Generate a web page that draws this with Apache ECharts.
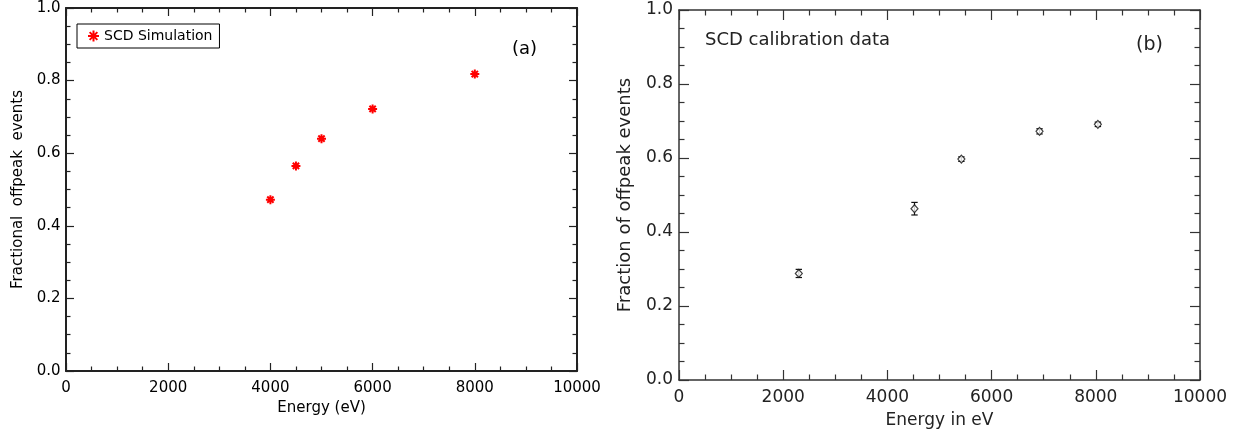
<!DOCTYPE html>
<html>
<head>
<meta charset="utf-8">
<script src="https://cdn.jsdelivr.net/npm/echarts@6/dist/echarts.min.js"></script>
<style>
html,body{margin:0;padding:0;background:#fff;}
#chart{width:1242px;height:430px;}
</style>
</head>
<body>
<div id="chart"></div>
<script>
// ---- data ----
const aEnergy   = [4000, 4500, 5000, 6000, 8000];
const aFraction = [0.472, 0.565, 0.640, 0.722, 0.818];
const bEnergy   = [2300, 4520, 5420, 6920, 8040];
const bFraction = [0.288, 0.463, 0.597, 0.672, 0.691];
const bError    = [0.011, 0.017, 0.006, 0.007, 0.006];
const xRange = [0, 10000];
const yRange = [0, 1];
const xStep = 2000;
const yStep = 0.2;

const STAR = 'path://M5 0L5 10M0 5L10 5M1.5 1.5L8.5 8.5M8.5 1.5L1.5 8.5';

const chart = echarts.init(document.getElementById('chart'), null, {renderer: 'canvas'});

function xAx(grid, pos, cfg) {
  const c = cfg;
  return {
    gridIndex: grid, type: 'value', position: pos,
    min: xRange[0], max: xRange[1], interval: xStep,
    splitLine: {show: false},
    axisLine: {show: true, onZero: false, lineStyle: {color: c.line, width: c.lw}},
    axisTick: {show: true, inside: true, length: c.major, lineStyle: {color: c.line, width: c.tw}},
    minorTick: {show: true, splitNumber: 4, length: c.minor, lineStyle: {color: c.line, width: c.tw}},
    minorSplitLine: {show: false},
    axisLabel: pos === 'bottom' ? {show: true, margin: c.xm, color: c.text, fontFamily: c.font, fontSize: c.fs,
      formatter: v => String(v)} : {show: false},
    name: pos === 'bottom' ? c.xname : '',
    nameLocation: 'middle', nameGap: c.xng,
    nameTextStyle: {color: c.text, fontFamily: c.font, fontSize: c.nfs}
  };
}
function yAx(grid, pos, cfg) {
  const c = cfg;
  return {
    gridIndex: grid, type: 'value', position: pos,
    min: yRange[0], max: yRange[1], interval: yStep,
    splitLine: {show: false},
    axisLine: {show: true, onZero: false, lineStyle: {color: c.line, width: c.lw}},
    axisTick: {show: true, inside: true, length: c.major, lineStyle: {color: c.line, width: c.tw}},
    minorTick: {show: true, splitNumber: 4, length: c.minor, lineStyle: {color: c.line, width: c.tw}},
    minorSplitLine: {show: false},
    axisLabel: pos === 'left' ? {show: true, margin: c.ym, color: c.text, fontFamily: c.font, fontSize: c.fs,
      formatter: v => v.toFixed(1)} : {show: false},
    name: pos === 'left' ? c.yname : '',
    nameLocation: 'middle', nameGap: c.yng, nameRotate: 90,
    nameTextStyle: {color: c.text, fontFamily: c.font, fontSize: c.ynfs}
  };
}

const cfgA = {line: '#222', lw: 2, tw: 1.2, major: 8, minor: 4.5, text: '#000', font: 'DejaVu Sans', fs: 15, nfs: 15, ynfs: 15,
  xm: 10, ym: 5.5, xname: 'Energy (eV)', xng: 29, yname: 'Fractional  offpeak  events', yng: 40};
const cfgB = {line: '#333', lw: 1.5, tw: 1.2, major: 10, minor: 5.5, text: '#222', font: 'DejaVu Sans', fs: 17, nfs: 17, ynfs: 18,
  xm: 9, ym: 6, xname: 'Energy in eV', xng: 32, yname: 'Fraction of offpeak events', yng: 45};

const option = {
  animation: false,
  backgroundColor: '#fff',
  grid: [
    {left: 66, top: 8, width: 511, height: 363, outerBoundsMode: 'none', containLabel: false},
    {left: 679, top: 10, width: 521, height: 370, outerBoundsMode: 'none', containLabel: false}
  ],
  xAxis: [xAx(0, 'bottom', cfgA), xAx(0, 'top', cfgA), xAx(1, 'bottom', cfgB), xAx(1, 'top', cfgB)],
  yAxis: [yAx(0, 'left', cfgA), yAx(0, 'right', cfgA), yAx(1, 'left', cfgB), yAx(1, 'right', cfgB)],
  legend: {
    show: true, left: 77, top: 24, orient: 'vertical',
    borderColor: '#000', borderWidth: 1, borderRadius: 0,
    padding: [5, 7, 5, 10], itemWidth: 11, itemHeight: 11,
    textStyle: {color: '#000', fontFamily: 'DejaVu Sans', fontSize: 14},
    data: [{name: 'SCD Simulation', icon: STAR,
      itemStyle: {color: 'rgba(0,0,0,0)', borderColor: '#ff0000', borderWidth: 2}}]
  },
  series: [
    {
      name: 'SCD Simulation', type: 'scatter', xAxisIndex: 0, yAxisIndex: 0,
      symbol: STAR, symbolSize: 9,
      itemStyle: {color: 'rgba(0,0,0,0)', borderColor: '#ff0000', borderWidth: 2, opacity: 1},
      data: aEnergy.map((x, i) => [x, aFraction[i]])
    },
    {
      name: 'SCD calibration error', type: 'custom', xAxisIndex: 2, yAxisIndex: 2,
      data: bEnergy.map((x, i) => [x, bFraction[i] - bError[i], bFraction[i] + bError[i]]),
      renderItem: function (params, api) {
        const lo = api.coord([api.value(0), api.value(1)]);
        const hi = api.coord([api.value(0), api.value(2)]);
        const hw = 3.2;
        const st = {stroke: '#111', lineWidth: 1.2};
        return {
          type: 'group',
          children: [
            {type: 'line', shape: {x1: lo[0], y1: lo[1], x2: hi[0], y2: hi[1]}, style: st},
            {type: 'line', shape: {x1: lo[0] - hw, y1: lo[1], x2: lo[0] + hw, y2: lo[1]}, style: st},
            {type: 'line', shape: {x1: hi[0] - hw, y1: hi[1], x2: hi[0] + hw, y2: hi[1]}, style: st}
          ]
        };
      },
      z: 3
    },
    {
      name: 'SCD calibration data', type: 'scatter', xAxisIndex: 2, yAxisIndex: 2,
      symbol: 'diamond', symbolSize: [7, 8],
      itemStyle: {color: '#fff', borderColor: '#111', borderWidth: 1.2},
      data: bEnergy.map((x, i) => [x, bFraction[i]]),
      z: 4
    }
  ],
  graphic: [
    {type: 'text', left: 512, top: 40, style: {text: '(a)', fill: '#000', font: '18px "DejaVu Sans"'}},
    {type: 'text', left: 705, top: 31, style: {text: 'SCD calibration data', fill: '#222', font: '18px "DejaVu Sans"'}},
    {type: 'text', left: 1136, top: 36, style: {text: '(b)', fill: '#222', font: '19px "DejaVu Sans"'}}
  ]
};
chart.setOption(option);
</script>
</body>
</html>
